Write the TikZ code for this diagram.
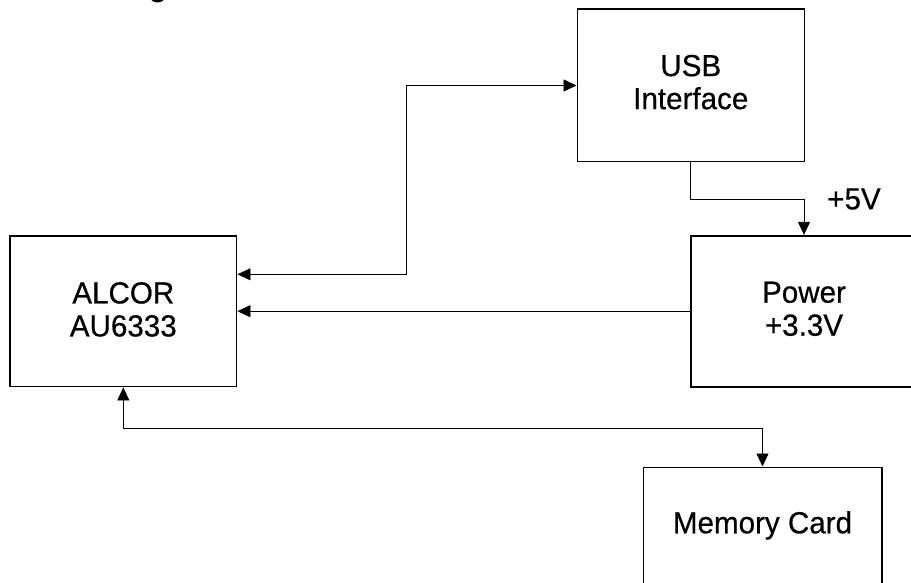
\documentclass[tikz,border=0pt]{standalone}
\usepackage{fontspec}
\setmainfont{Liberation Sans}[FakeStretch=0.97,FakeBold=0.5]
\newfontfamily\titlefont{Liberation Sans}
\usetikzlibrary{arrows.meta}
\begin{document}
\begin{tikzpicture}[x=1pt,y=-1pt,
  box/.style={draw,line width=1.6pt,inner sep=0pt,align=center,font=\fontsize{30.5}{33}\selectfont},
  lbl/.style={inner sep=0pt,font=\fontsize{30.5}{33}\selectfont},
  conn/.style={line width=0.8pt,-{Triangle[length=13pt,width=12pt]}},
  conntwo/.style={line width=0.8pt,{Triangle[length=13pt,width=12pt]}-{Triangle[length=13pt,width=12pt]}}]
\useasboundingbox (0,0) rectangle (911,583);
\fill[white] (0,0) rectangle (911,583);
\clip (0,0) rectangle (911,583);
\node[anchor=base west,inner sep=0pt,font=\titlefont\bfseries\fontsize{30}{36}\selectfont] (title) at (12,-3.3) {Block Diagram};
\node[box,minimum width=227pt,minimum height=152.4pt] (usb) at (690.8,85.5) {USB\\Interface\rule[-7pt]{0pt}{0pt}};
\node[box,minimum width=226.7pt,minimum height=150.7pt] (alcor) at (123.3,311.3) {ALCOR\\AU6333\rule[-4pt]{0pt}{0pt}};
\node[box,minimum width=226.6pt,minimum height=151pt] (power) at (804,311.2) {Power\\+3.3V\rule[-5pt]{0pt}{0pt}};
\node[box,anchor=base,text height=66pt,text depth=90pt,minimum width=238.4pt] (mem) at (762.5,533.3) {Memory Card};
\node[lbl] (v5) at (854,199) {+5V};
\coordinate (j1) at (406.7,274.3);
\draw[conntwo] (usb.west) -| (j1) -- (j1 -| alcor.east);
\draw[conn] (usb.south) -- ++(0,37.3) -| (power.north);
\draw[conn] (power.west) -- (power.west -| alcor.east);
\draw[conntwo] (alcor.south) -- ++(0,40.8) -| (mem.north);
\end{tikzpicture}
\end{document}
